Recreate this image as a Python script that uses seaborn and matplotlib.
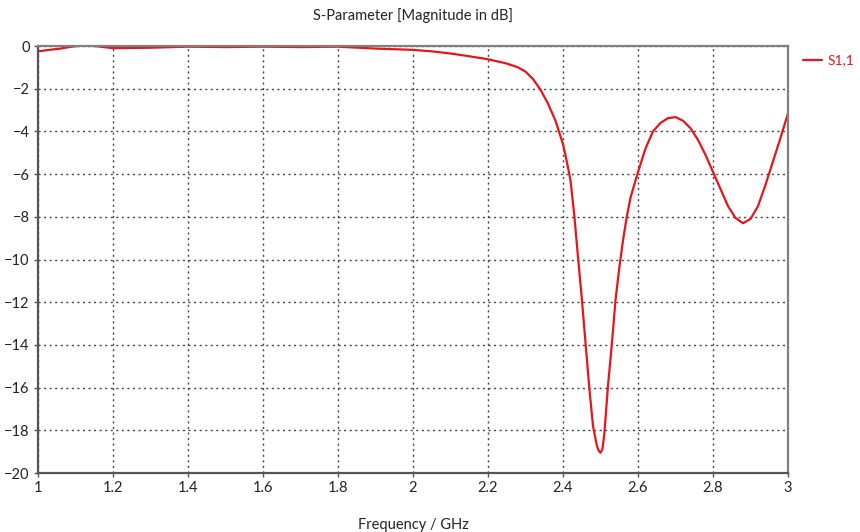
import pandas as pd
import seaborn as sns
import matplotlib.pyplot as plt

# S-parameter sweep, values
freq = [1.00, 1.03, 1.06, 1.09, 1.12, 1.15, 1.20, 1.30, 1.40, 1.50, 1.60, 1.70,
        1.80, 1.90, 2.00, 2.05, 2.10, 2.15, 2.20, 2.25, 2.28, 2.30, 2.32, 2.34,
        2.36, 2.38, 2.40, 2.41, 2.42, 2.43, 2.44, 2.45, 2.46, 2.47, 2.48, 2.49,
        2.495, 2.50, 2.505, 2.51, 2.52, 2.53, 2.54, 2.55, 2.56, 2.57, 2.58, 2.60,
        2.62, 2.64, 2.66, 2.68, 2.70, 2.72, 2.74, 2.76, 2.78, 2.80, 2.82, 2.84,
        2.86, 2.88, 2.90, 2.92, 2.94, 2.96, 2.98, 3.00]
s11_db = [-0.25, -0.18, -0.12, -0.03, 0.02, 0.0, -0.10, -0.08, -0.03, -0.05, -0.03, -0.05,
          -0.03, -0.12, -0.18, -0.25, -0.35, -0.48, -0.62, -0.82, -1.0, -1.2, -1.55, -2.05,
          -2.7, -3.5, -4.6, -5.4, -6.3, -7.9, -9.9, -11.8, -13.9, -16.0, -17.8, -18.7,
          -18.95, -19.05, -18.9, -18.2, -15.9, -14.0, -11.9, -10.4, -9.1, -8.0, -7.1, -5.9,
          -4.8, -4.0, -3.6, -3.38, -3.33, -3.5, -3.85, -4.4, -5.1, -5.9, -6.7, -7.5,
          -8.05, -8.3, -8.1, -7.5, -6.5, -5.4, -4.3, -3.15]
x_ticks = [1, 1.2, 1.4, 1.6, 1.8, 2, 2.2, 2.4, 2.6, 2.8, 3]
x_labels = ['1', '1.2', '1.4', '1.6', '1.8', '2', '2.2', '2.4', '2.6', '2.8', '3']
y_ticks = list(range(-20, 1, 2))

df = pd.DataFrame({'Frequency': freq, 'S1,1': s11_db})

sns.set_style('white')
plt.rcParams['font.family'] = ['Lato', 'DejaVu Sans']

fig = plt.figure(figsize=(8.6, 5.32), dpi=100)
ax = fig.add_axes([0.0442, 0.1109, 0.8721, 0.8026])

sns.lineplot(data=df, x='Frequency', y='S1,1', color='#e8141c', linewidth=1.6,
             label='S1,1', ax=ax)

ax.set_xlim(1, 3)
ax.set_ylim(-20, 0)
ax.set_xticks(x_ticks)
ax.set_xticklabels(x_labels)
ax.set_yticks(y_ticks)
ax.tick_params(axis='both', direction='out', length=3, width=1, color='#555555',
               labelsize=10.5, labelcolor='#222222', pad=3, left=True, bottom=True)
ax.grid(True, linestyle=(0, (1.5, 2.5)), color='#444444', linewidth=1.0)

for side in ['left', 'bottom']:
    ax.spines[side].set_color('#555555')
    ax.spines[side].set_linewidth(1.6)
for side in ['top', 'right']:
    ax.spines[side].set_color('#808080')
    ax.spines[side].set_linewidth(1.6)

ax.set_xlabel('Frequency / GHz', fontsize=10.5, color='#222222', labelpad=16)
ax.set_ylabel('')
ax.set_title('S-Parameter [Magnitude in dB]', fontsize=10.5, color='#222222', pad=19)

ax.legend(loc='upper left', bbox_to_anchor=(1.02, 0.98), frameon=False,
          borderaxespad=0, borderpad=0, labelcolor='#e8141c', fontsize=10,
          handlelength=1.4, handletextpad=0.4)

fig.savefig('out.png', dpi=100)
